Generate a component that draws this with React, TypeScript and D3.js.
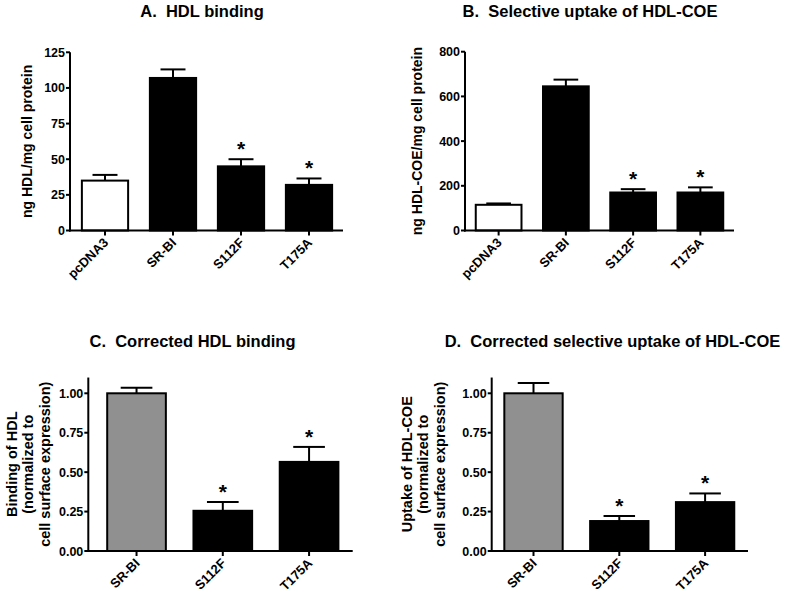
import React from "react";
import * as d3 from "d3";

// ---------- Data ----------
const abCategories = ["pcDNA3", "SR-BI", "S112F", "T175A"];
const cdCategories = ["SR-BI", "S112F", "T175A"];

const aValues = [35, 107, 45, 32];
const aErrors = [4, 6, 5, 4.5];
const aSignificant = [false, false, true, true];
const aTicks = [0, 25, 50, 75, 100, 125];

const bValues = [115, 645, 170, 170];
const bErrors = [6, 30, 15, 23];
const bSignificant = [false, false, true, true];
const bTicks = [0, 200, 400, 600, 800];

const cValues = [1.0, 0.255, 0.565];
const cErrors = [0.035, 0.055, 0.095];
const cSignificant = [false, true, true];
const cTicks = [0, 0.25, 0.5, 0.75, 1.0];

const dValues = [1.0, 0.19, 0.31];
const dErrors = [0.065, 0.032, 0.055];
const dSignificant = [false, true, true];
const dTicks = [0, 0.25, 0.5, 0.75, 1.0];

const abFills = ["#ffffff", "#000000", "#000000", "#000000"];
const cdFills = ["#909090", "#000000", "#000000"];

const FONT = "'Liberation Sans', Arial, Helvetica, sans-serif";

type PanelProps = {
  title: string;
  titleX: number;
  titleY: number;
  categories: string[];
  values: number[];
  errors: number[];
  significant: boolean[];
  fills: string[];
  ticks: number[];
  tickFormat: (v: number) => string;
  tickFontSize: number;
  axisX: number;
  axisEnd: number;
  y0: number;
  yRef: number;
  refValue: number;
  domainTop: number;
  bandStart: number;
  bandEnd: number;
  yLabelLines: string[];
  yLabelXs: number[];
  yLabelFontSize: number;
};

function Panel(p: PanelProps) {
  const y = d3.scaleLinear().domain([0, p.refValue]).range([p.y0, p.yRef]);
  const x = d3
    .scaleBand<string>()
    .domain(p.categories)
    .range([p.bandStart, p.bandEnd])
    .paddingInner(0.32)
    .paddingOuter(0.16);
  const bw = x.bandwidth();
  const capW = bw * 0.54;
  const yTopPx = y(p.domainTop);
  const midY = (p.y0 + yTopPx) / 2;

  return (
    <g>
      <text
        x={p.titleX}
        y={p.titleY}
        textAnchor="middle"
        fontSize={16.5}
        fontWeight="bold"
        style={{ whiteSpace: "pre" }}
      >
        {p.title}
      </text>
      {p.categories.map((c, i) => {
        const x0 = x(c)!;
        const top = y(p.values[i]);
        const errTop = y(p.values[i] + p.errors[i]);
        const cx = x0 + bw / 2;
        return (
          <g key={c}>
            <line x1={cx} x2={cx} y1={top} y2={errTop} stroke="#000" strokeWidth={2} />
            <line
              x1={cx - capW / 2}
              x2={cx + capW / 2}
              y1={errTop}
              y2={errTop}
              stroke="#000"
              strokeWidth={2}
            />
            <rect
              x={x0}
              y={top}
              width={bw}
              height={p.y0 - top}
              fill={p.fills[i]}
              stroke="#000"
              strokeWidth={2}
            />
            {p.significant[i] && (
              <text
                x={cx}
                y={errTop - 3}
                textAnchor="middle"
                fontSize={21}
                fontWeight="bold"
              >
                *
              </text>
            )}
          </g>
        );
      })}
      <line x1={p.axisX} x2={p.axisX} y1={yTopPx} y2={p.y0 + 1} stroke="#000" strokeWidth={2} />
      {p.ticks.map((t) => (
        <g key={t}>
          <line x1={p.axisX - 4} x2={p.axisX} y1={y(t)} y2={y(t)} stroke="#000" strokeWidth={2} />
          <text
            x={p.axisX - 5}
            y={y(t)}
            dy="0.36em"
            textAnchor="end"
            fontSize={p.tickFontSize}
            fontWeight="bold"
          >
            {p.tickFormat(t)}
          </text>
        </g>
      ))}
      <line x1={p.axisX - 1} x2={p.axisEnd} y1={p.y0} y2={p.y0} stroke="#000" strokeWidth={2} />
      {p.categories.map((c) => {
        const cx = x(c)! + bw / 2;
        return (
          <g key={"xt" + c}>
            <line x1={cx} x2={cx} y1={p.y0} y2={p.y0 + 5} stroke="#000" strokeWidth={2} />
            <text
              transform={`translate(${cx + 4},${p.y0 + 13}) rotate(-45)`}
              textAnchor="end"
              fontSize={13}
              fontWeight="bold"
            >
              {c}
            </text>
          </g>
        );
      })}
      {p.yLabelLines.map((line, i) => (
        <text
          key={line}
          transform={`translate(${p.yLabelXs[i]},${midY}) rotate(-90)`}
          textAnchor="middle"
          fontSize={p.yLabelFontSize}
          fontWeight="bold"
        >
          {line}
        </text>
      ))}
    </g>
  );
}

export default function App() {
  const intFmt = (v: number) => d3.format("d")(v);
  const decFmt = (v: number) => d3.format(".2f")(v);
  return (
    <svg
      width={790}
      height={595}
      style={{ position: "absolute", left: 0, top: 0, background: "#fff" }}
      fontFamily={FONT}
    >
      <rect x={0} y={0} width={790} height={595} fill="#fff" />
      <Panel
        title={"A.  HDL binding"}
        titleX={202}
        titleY={17}
        categories={abCategories}
        values={aValues}
        errors={aErrors}
        significant={aSignificant}
        fills={abFills}
        ticks={aTicks}
        tickFormat={intFmt}
        tickFontSize={12.5}
        axisX={70}
        axisEnd={343}
        y0={230.5}
        yRef={52.3}
        refValue={125}
        domainTop={125}
        bandStart={71}
        bandEnd={343}
        yLabelLines={["ng HDL/mg cell protein"]}
        yLabelXs={[32]}
        yLabelFontSize={14}
      />
      <Panel
        title={"B.  Selective uptake of HDL-COE"}
        titleX={590}
        titleY={17}
        categories={abCategories}
        values={bValues}
        errors={bErrors}
        significant={bSignificant}
        fills={abFills}
        ticks={bTicks}
        tickFormat={intFmt}
        tickFontSize={12.5}
        axisX={465}
        axisEnd={734}
        y0={230.5}
        yRef={51.7}
        refValue={800}
        domainTop={800}
        bandStart={465}
        bandEnd={734}
        yLabelLines={["ng HDL-COE/mg cell protein"]}
        yLabelXs={[422]}
        yLabelFontSize={14}
      />
      <Panel
        title={"C.  Corrected HDL binding"}
        titleX={192.5}
        titleY={346.5}
        categories={cdCategories}
        values={cValues}
        errors={cErrors}
        significant={cSignificant}
        fills={cdFills}
        ticks={cTicks}
        tickFormat={decFmt}
        tickFontSize={12.5}
        axisX={88.3}
        axisEnd={352.7}
        y0={551}
        yRef={393.3}
        refValue={1}
        domainTop={1.1}
        bandStart={93.4}
        bandEnd={352.2}
        yLabelLines={["Binding of HDL", "(normalized to", "cell surface expression)"]}
        yLabelXs={[16.5, 33, 49.5]}
        yLabelFontSize={14.5}
      />
      <Panel
        title={"D.  Corrected selective uptake of HDL-COE"}
        titleX={612.5}
        titleY={346.5}
        categories={cdCategories}
        values={dValues}
        errors={dErrors}
        significant={dSignificant}
        fills={cdFills}
        ticks={dTicks}
        tickFormat={decFmt}
        tickFontSize={12.5}
        axisX={491.7}
        axisEnd={748}
        y0={551}
        yRef={393.3}
        refValue={1}
        domainTop={1.1}
        bandStart={490.6}
        bandEnd={748}
        yLabelLines={["Uptake of HDL-COE", "(normalized to", "cell surface expression)"]}
        yLabelXs={[411.5, 428, 444.5]}
        yLabelFontSize={14.5}
      />
    </svg>
  );
}
